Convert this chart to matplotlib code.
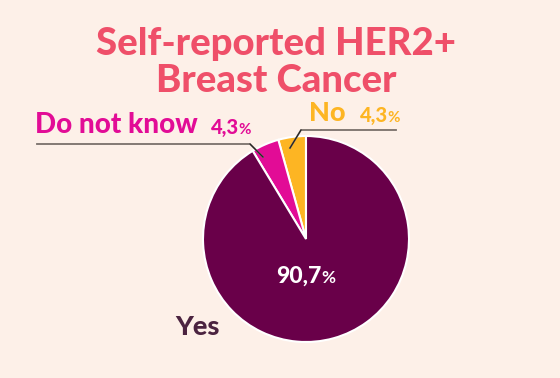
import matplotlib
matplotlib.use("Agg")
import matplotlib.pyplot as plt

# data, in drawing order (counter-clockwise from 12 o'clock)
categories = ["No", "Do not know", "Yes"]
values = [4.3, 4.3, 90.7]
value_labels = ["4,3", "4,3", "90,7"]
colors = ["#FDB523", "#E20C96", "#690049"]

bg = "#FDF0E8"
W, H = 560, 378

fig = plt.figure(figsize=(W / 100, H / 100), dpi=100, facecolor=bg)
ax = fig.add_axes([0, 0, 1, 1])
ax.set_facecolor(bg)


def py(y):
    # pixel row (from top) to data y
    return H - y


font = ["Lato", "DejaVu Sans"]

# pie
ax.pie(values, colors=colors, startangle=90, counterclock=True,
       center=(306, py(239)), radius=103, frame=True,
       wedgeprops=dict(edgecolor="white", linewidth=1.5))
ax.set_xlim(0, W)
ax.set_ylim(0, H)
ax.set_aspect("equal")
ax.axis("off")

# title
ax.text(276, py(44), "Self-reported HER2+", ha="center", va="center",
        fontsize=27.5, fontweight="black", color="#EF4F69", family=font)
ax.text(276, py(81), "Breast Cancer", ha="center", va="center",
        fontsize=27.5, fontweight="black", color="#EF4F69", family=font)

# leader lines
ax.plot([37, 250, 263], [py(144), py(144), py(157)], color="#7A706A", lw=1.3)
ax.plot([396, 301, 290], [py(130), py(130), py(148)], color="#7A706A", lw=1.3)
ax.plot([250, 263], [py(144), py(157)], color="#222222", lw=0.8)
ax.plot([301, 290], [py(130), py(148)], color="#222222", lw=0.8)

# category labels
ax.text(35, py(125), categories[1], ha="left", va="center",
        fontsize=20, fontweight="black", color=colors[1], family=font)
ax.text(309, py(113), categories[0], ha="left", va="center",
        fontsize=19.5, fontweight="black", color=colors[0], family=font)
ax.text(175, py(327), categories[2], ha="left", va="center",
        fontsize=19.5, fontweight="black", color="#4B2340", family=font)


def pct(x, y, txt, size, color):
    t = ax.text(x, y, txt, ha="left", va="baseline", fontsize=size,
                fontweight="black", color=color, family=font)
    fig.canvas.draw()
    bb = t.get_window_extent()
    ax.text(bb.x1 * 100 / fig.dpi - 0.5, y, "%", ha="left", va="baseline",
            fontsize=size * 0.75, fontweight="bold", color=color, family=font)


pct(211, py(134), value_labels[1], 14.5, colors[1])
pct(360, py(122), value_labels[0], 14.5, colors[0])
pct(276, py(283), value_labels[2], 16.5, "white")

fig.savefig("out.png", dpi=100, facecolor=bg)
